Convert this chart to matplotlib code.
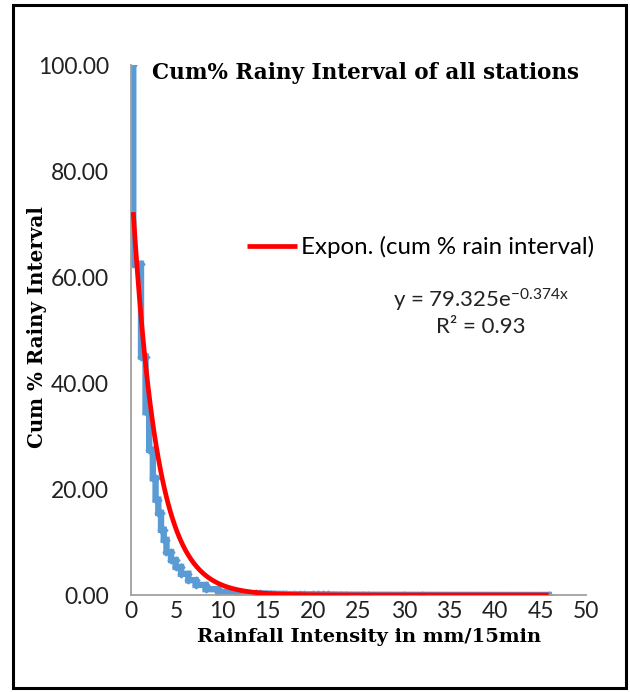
import matplotlib.pyplot as plt
from matplotlib.patches import Rectangle
import numpy as np

plt.rcParams['mathtext.fontset'] = 'custom'
plt.rcParams['mathtext.rm'] = 'Lato'

# cumulative % of rainy intervals, stepped at each intensity level
step_x = [0.25, 1.1, 1.6, 2.0, 2.4, 2.7, 3.0, 3.3, 3.6, 3.9, 4.4, 4.9, 5.5,
          6.3, 7.1, 8.2, 9.6, 11.5, 13.7]
step_top = [100.0, 62.5, 45.0, 34.5, 27.4, 22.0, 18.0, 15.5, 12.3, 10.4,
            8.1, 6.6, 5.3, 4.0, 2.8, 1.9, 1.1, 0.6, 0.3]
step_bottom = [62.5, 45.0, 34.5, 27.4, 22.0, 18.0, 15.5, 12.3, 10.4, 8.1,
               6.6, 5.3, 4.0, 2.8, 1.9, 1.1, 0.6, 0.3, 0.25]

# sparse high-intensity intervals
tail_x = [14.2, 14.8, 15.4, 15.7, 16.7, 17.0, 17.9, 18.6, 19.0, 20.0, 20.5,
          21.1, 21.6, 22.2, 23.1, 23.6, 25.5, 26.0, 30.0, 32.0, 45.9]
tail_y = [0.3, 0.28, 0.25, 0.22, 0.2, 0.18, 0.16, 0.15, 0.14, 0.13, 0.12,
          0.11, 0.1, 0.09, 0.08, 0.07, 0.06, 0.05, 0.04, 0.03, 0.01]

# exponential trendline: y = a * exp(b x)
fit_a = 79.325
fit_b = -0.374
fit_r2 = 0.93
fit_range = (0.25, 45.9)

xs, ys = [], []
for x, t, b in zip(step_x, step_top, step_bottom):
    xs += [x, x]
    ys += [t, b]
xs += tail_x
ys += tail_y

fig = plt.figure(figsize=(6.3, 6.92), dpi=100)
ax = fig.add_axes([131 / 630, 1 - 595 / 692, 455 / 630, 530 / 692])

ax.plot(xs, ys, color='#5B9BD5', lw=4.6, marker='D', ms=3.5,
        solid_joinstyle='miter', zorder=2)

xf = np.linspace(fit_range[0], fit_range[1], 400)
ax.plot(xf, fit_a * np.exp(fit_b * xf), color='#FF0000', lw=3.4,
        solid_capstyle='butt', zorder=3, label='Expon. (cum % rain interval)')

ax.set_xlim(0, 50)
ax.set_ylim(0, 100)
ax.set_xticks(np.arange(0, 51, 5))
ax.set_yticks(np.arange(0, 101, 20))
ax.set_yticklabels([f'{v:.2f}' for v in np.arange(0, 101, 20)])
ax.tick_params(length=0, labelsize=16.5)
ax.tick_params(axis='x', pad=4)
ax.tick_params(axis='y', pad=16)
for lab in ax.get_xticklabels() + ax.get_yticklabels():
    lab.set_family('Lato')
    lab.set_color('#222222')

for side in ['top', 'right']:
    ax.spines[side].set_visible(False)
for side in ['left', 'bottom']:
    ax.spines[side].set_color('#A0A0A0')
    ax.spines[side].set_linewidth(1.3)

ax.text(152 / 630, 1 - 73 / 692, 'Cum% Rainy Interval of all stations',
        transform=fig.transFigure, fontsize=15.5, fontweight='bold',
        family='DejaVu Serif', va='center', ha='left')

ax.legend(loc='center left', bbox_to_anchor=((247 - 131) / 455, (595 - 247) / 530),
          frameon=False, handlelength=2.1, handletextpad=0.15, borderaxespad=0,
          borderpad=0, prop={'family': 'Lato', 'size': 17.3})

ax.text(481 / 630, 1 - 300 / 692,
        r'y = 79.325e$\mathregular{^{-0.374x}}$',
        transform=fig.transFigure, ha='center', va='center',
        fontsize=16, family='Lato', color='#222222')
ax.text(481 / 630, 1 - 327 / 692, f'R² = {fit_r2}',
        transform=fig.transFigure, ha='center', va='center',
        fontsize=16, family='Lato', color='#222222')

fig.text(37 / 630, 1 - 327 / 692, 'Cum % Rainy Interval', rotation=90,
         ha='center', va='center', fontsize=14.3, fontweight='bold',
         family='DejaVu Serif')
fig.text(369 / 630, 1 - 637 / 692, 'Rainfall Intensity in mm/15min',
         ha='center', va='center', fontsize=14, fontweight='bold',
         family='DejaVu Serif')

fig.patches.append(Rectangle((13 / 630, 1 - 688 / 692), 613 / 630, 683 / 692,
                             transform=fig.transFigure, fill=False,
                             edgecolor='black', lw=2.2))

fig.savefig('out.png', dpi=100)
